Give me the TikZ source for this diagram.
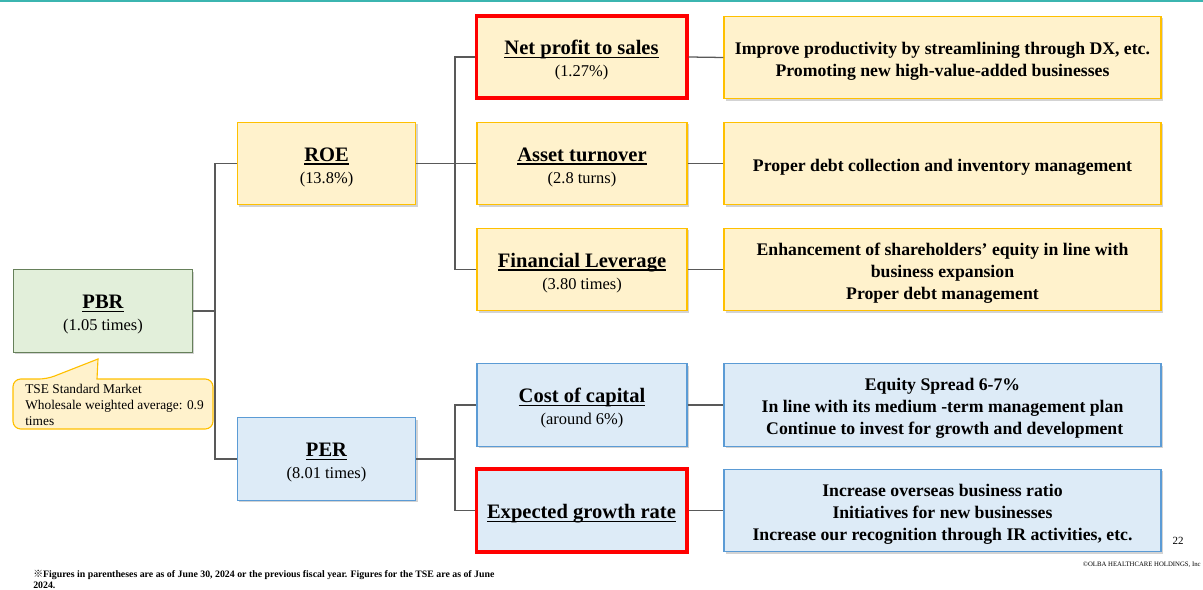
\documentclass[tikz,border=0pt]{standalone}
\usepackage{fontspec}
\setmainfont{Liberation Serif}
\newfontfamily\cjkfont{Noto Sans CJK JP}
\usetikzlibrary{shadows}

% Colours of the boxes and lines
\definecolor{roeFill}{HTML}{FFF2CC}
\definecolor{roeLine}{HTML}{FFC000}
\definecolor{perFill}{HTML}{DDEBF7}
\definecolor{perLine}{HTML}{5B9BD5}
\definecolor{pbrFill}{HTML}{E2EFDA}
\definecolor{pbrLine}{HTML}{66805A}
\definecolor{linkGray}{HTML}{595959}
\definecolor{topTeal}{HTML}{3BB5B0}

% Extra room above the first line of a box
\newcommand{\topgap}[1]{\rule{0pt}{#1}}
% Bold title with a thick underline
\newcommand{\titleline}[1]{\topgap{15pt}\setbox0\hbox{\fontsize{14.6}{15.6}\selectfont\bfseries #1}\rlap{\rule[-2.6pt]{\wd0}{1.1pt}}\box0}
% Title plus value in parentheses
\newcommand{\boxtitle}[2]{\titleline{#1}\\#2}
% Measures text
\newcommand{\plan}[1]{\topgap{13.7pt}#1}

\begin{document}
\begin{tikzpicture}[x=0.025cm, y=-0.025cm,
    box/.style={draw, line width=0.8pt, align=center, inner sep=0pt,
        minimum height=2.06cm, font=\fontsize{11.7}{15.6}\selectfont,
        drop shadow={shadow xshift=1.3pt, shadow yshift=-1.3pt, opacity=0.35}},
    yellowbox/.style={box, fill=roeFill, draw=roeLine},
    bluebox/.style={box, fill=perFill, draw=perLine},
    greenbox/.style={box, fill=pbrFill, draw=pbrLine},
    keybox/.style={draw=red, line width=2.8pt},
    leftcol/.style={minimum width=4.47cm},
    midcol/.style={minimum width=5.25cm},
    rightcol/.style={minimum width=10.92cm, font=\fontsize{12.6}{15.6}\selectfont\bfseries},
    link/.style={draw=linkGray, line width=0.9pt}]

    % Page frame
    \useasboundingbox (0,0) rectangle (1203,590);
    \draw[topTeal, line width=2pt] (0,1) -- (1203,1);   % Top rule

    % Left column
    \node[greenbox, leftcol] (pbr) at (103,311) {\boxtitle{PBR}{(1.05 times)}};
    \node[yellowbox, leftcol] (roe) at (326.5,163.5) {\boxtitle{ROE}{(13.8\%)}};
    \node[bluebox, leftcol] (per) at (326.5,459) {\boxtitle{PER}{(8.01 times)}};

    % Middle column
    \node[yellowbox, midcol, keybox] (npm) at (581.5,57) {\boxtitle{Net profit to sales}{(1.27\%)}};
    \node[yellowbox, midcol] (turnover) at (582,163.5) {\boxtitle{Asset turnover}{(2.8 turns)}};
    \node[yellowbox, midcol] (lev) at (582,269.5) {\boxtitle{Financial Leverage}{(3.80 times)}};
    \node[bluebox, midcol] (coc) at (582,405) {\boxtitle{Cost of capital}{(around 6\%)}};
    \node[bluebox, midcol, keybox] (growth) at (581.5,510.5) {\titleline{Expected growth rate}};

    % Right column
    \node[yellowbox, rightcol] (npmplan) at (942.5,57.5) {\plan{Improve productivity by streamlining through DX, etc.}\\Promoting new high-value-added businesses};
    \node[yellowbox, rightcol] (turnoverplan) at (942.5,163.5) {\plan{Proper debt collection and inventory management}};
    \node[yellowbox, rightcol] (levplan) at (942.5,269.5) {\plan{Enhancement of shareholders' equity in line with}\\business expansion\\Proper debt management};
    \node[bluebox, rightcol] (cocplan) at (942.5,405) {\plan{Equity Spread 6-7\%}\\In line with its medium -term management plan\\\ Continue to invest for growth and development};
    \node[bluebox, rightcol] (growthplan) at (942.5,510.5) {\plan{Increase overseas business ratio}\\Initiatives for new businesses\\Increase our recognition through IR activities, etc.};

    % Branch points
    \coordinate (j1) at (215,311);     % PBR split
    \coordinate (j2) at (455,163.5);   % ROE split
    \coordinate (j3) at (455,459);     % PER split

    % Connectors from PBR
    \draw[link] (pbr.east) -- (j1);
    \draw[link] (roe.west) -| (j1);
    \draw[link] (per.west) -| (j1);

    % Connectors from ROE
    \draw[link] (roe.east) -- (turnover.west);
    \draw[link] (npm.west) -| (j2);
    \draw[link] (lev.west) -| (j2);

    % Connectors from PER
    \draw[link] (per.east) -- (j3);
    \draw[link] (coc.west) -| (j3);
    \draw[link] (growth.west) -| (j3);

    % Connectors to the measures
    \draw[link] (npm.east) -- (npmplan.west);
    \draw[link] (turnover.east) -- (turnoverplan.west);
    \draw[link] (lev.east) -- (levplan.west);
    \draw[link] (coc.east) -- (cocplan.west);
    \draw[link] (growth.east) -- (growthplan.west);

    % Callout under PBR
    \draw[fill=roeFill, draw=roeLine, line width=0.8pt] (150,429) [rounded corners=5.5pt] -- (13,429) -- (13,379)
        -- (47,379) [sharp corners] -- (98,359) -- (97,379) [rounded corners=5.5pt] -- (213,379) -- (213,429) -- cycle;
    \node[anchor=north west, align=left, inner sep=0pt, font=\fontsize{9.5}{11.4}\selectfont] (tse) at (25,384)
        {TSE Standard Market\\Wholesale weighted average: 0.9\\times};

    % Page number, copyright and note
    \node[font=\fontsize{7.8}{9}\selectfont] (pagenum) at (1178,541) {22};
    \node[anchor=east, inner sep=0pt, font=\fontsize{4.8}{6}\selectfont] (copyright) at (1201,565) {\copyright OLBA HEALTHCARE HOLDINGS, Inc};
    \node[anchor=north west, align=left, inner sep=0pt, font=\fontsize{7}{8.2}\selectfont\bfseries] (note) at (33,569.5)
        {{\cjkfont ※}Figures in parentheses are as of June 30, 2024 or the previous fiscal year. Figures for the TSE are as of June\\2024.};

\end{tikzpicture}
\end{document}
